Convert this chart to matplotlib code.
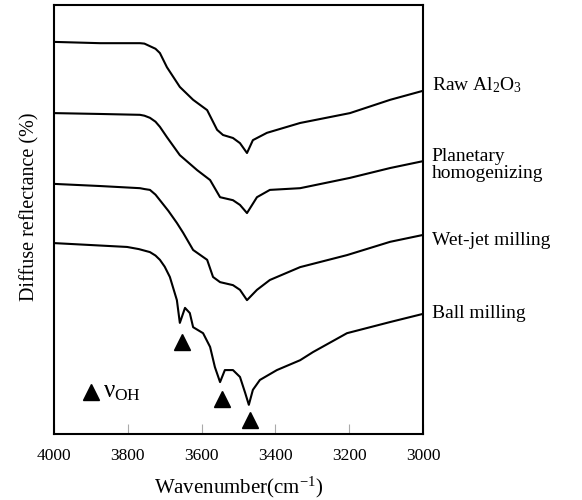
import matplotlib
matplotlib.use('Agg')
import matplotlib.pyplot as plt

plt.rcParams['font.family'] = ['Liberation Serif', 'DejaVu Serif']
plt.rcParams['mathtext.fontset'] = 'custom'
plt.rcParams['mathtext.rm'] = 'Liberation Serif'
plt.rcParams['mathtext.it'] = 'Liberation Serif'
plt.rcParams['mathtext.bf'] = 'Liberation Serif'

# spectra (arbitrary reflectance units, offset)
wn_raw = [4000, 3875, 3767, 3755, 3740, 3725, 3713, 3694, 3659, 3623, 3585,
          3558, 3542, 3515, 3496, 3477, 3461, 3423, 3333, 3198, 3089, 3000]
raw = [91.4, 91.1, 91.1, 91.0, 90.4, 89.8, 88.8, 85.5, 80.9, 77.9, 75.5,
       70.9, 69.7, 69.0, 67.8, 65.5, 68.5, 70.2, 72.5, 74.8, 77.9, 80.0]

wn_plan = [4000, 3875, 3767, 3755, 3740, 3725, 3713, 3694, 3659, 3612, 3577,
           3550, 3515, 3496, 3477, 3450, 3415, 3333, 3198, 3089, 3000]
plan = [74.8, 74.6, 74.4, 74.2, 73.7, 72.8, 71.6, 69.2, 65.0, 61.5, 59.2,
        55.2, 54.5, 53.4, 51.5, 55.2, 56.9, 57.3, 59.7, 62.0, 63.6]

wn_wet = [4000, 3875, 3767, 3755, 3740, 3725, 3713, 3690, 3667, 3650, 3623,
          3585, 3569, 3550, 3515, 3496, 3477, 3450, 3415, 3333, 3206, 3089, 3000]
wet = [58.3, 57.8, 57.3, 57.1, 56.9, 55.8, 54.5, 52.0, 49.2, 46.9, 42.9,
       40.6, 36.6, 35.4, 34.7, 33.6, 31.2, 33.6, 35.9, 38.9, 41.7, 44.8, 46.4]

wn_ball = [4000, 3802, 3770, 3740, 3725, 3713, 3700, 3686, 3667, 3659, 3645,
           3632, 3623, 3596, 3577, 3564, 3550, 3537, 3515, 3496, 3482, 3472,
           3461, 3442, 3396, 3333, 3298, 3206, 3089, 3000]
ball = [44.5, 43.6, 43.1, 42.4, 41.6, 40.6, 39.0, 36.6, 31.2, 25.9, 29.4,
        28.2, 24.9, 23.5, 20.3, 15.6, 12.1, 14.9, 14.9, 13.3, 9.6, 6.8,
        10.3, 12.6, 14.9, 17.2, 19.1, 23.5, 26.1, 28.0]

# OH stretching bands marked on ball milled sample
oh_wn = [3653, 3545, 3469]
oh_y = [21.4, 8.2, 3.3]

labels = ['Raw Al$_2$O$_3$', 'Planetary\nhomogenizing', 'Wet-jet milling', 'Ball milling']
label_y = [81.4, 62.7, 45.2, 28.2]

fig = plt.figure(figsize=(5.82, 5.0), dpi=100)
ax = fig.add_axes([0.0928, 0.132, 0.634, 0.858])

for x, y in [(wn_raw, raw), (wn_plan, plan), (wn_wet, wet), (wn_ball, ball)]:
    ax.plot(x, y, color='black', lw=1.5)

ax.plot(oh_wn, oh_y, linestyle='none', marker='^', color='black', markersize=11)
ax.plot([3900], [9.8], linestyle='none', marker='^', color='black', markersize=11)
ax.text(3868, 9.8, r'$\nu_{\rm OH}$', fontsize=18, va='center', ha='left')

for lab, ly in zip(labels, label_y):
    ax.text(2976, ly, lab, fontsize=14, va='center', ha='left',
            linespacing=1.0, clip_on=False)

ax.set_xlim(4000, 3000)
ax.set_ylim(0, 100)
ax.set_xticks([4000, 3800, 3600, 3400, 3200, 3000])
ax.set_yticks([])
ax.tick_params(axis='x', direction='in', length=7, color='#aaaaaa',
               labelsize=12.5, pad=10)
for s in ax.spines.values():
    s.set_linewidth(1.5)

ax.set_xlabel('Wavenumber(cm$^{-1}$)', fontsize=15, labelpad=8)
ax.set_ylabel('Diffuse reflectance (%)', fontsize=14.5, labelpad=6)
ax.yaxis.set_label_coords(-0.04, 0.53)

fig.savefig('out.png', dpi=100)
